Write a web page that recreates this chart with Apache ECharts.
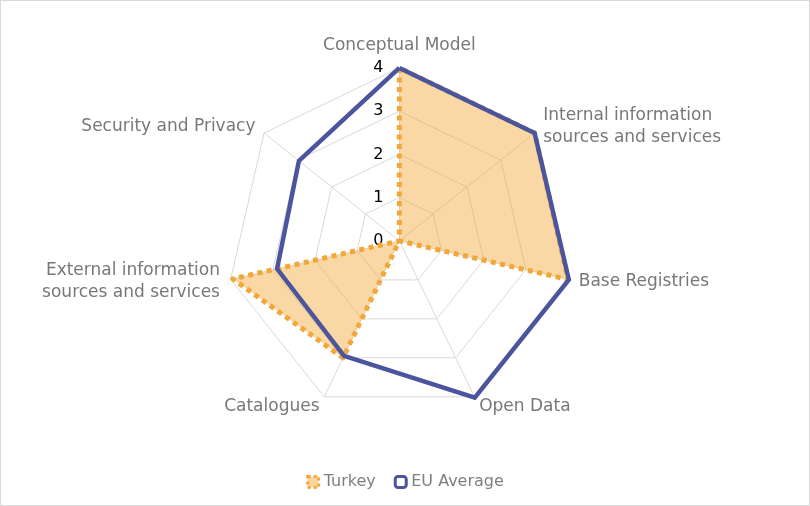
<!DOCTYPE html>
<html>
<head>
<meta charset="utf-8">
<script src="https://cdn.jsdelivr.net/npm/echarts@6/dist/echarts.min.js"></script>
<style>
html,body{margin:0;padding:0;background:#fff;}
#c{width:808px;height:504px;border:1px solid #d9d9d9;}
</style>
</head>
<body>
<div id="c"></div>
<script>
// categories in clockwise order starting from the top
var categories = [
  'Conceptual Model',
  'Internal information\nsources and services',
  'Base Registries',
  'Open Data',
  'Catalogues',
  'External information\nsources and services',
  'Security and Privacy'
];
var turkey = [4, 4, 4, 0, 3, 3.95, 0];
var euAverage = [4, 4, 4.02, 4.02, 2.95, 2.9, 2.97];
var maxValue = 4;
var tickLabels = ['0', '1', '2', '3', '4'];

// ECharts places indicators counter-clockwise; reorder so they appear clockwise
var order = [0].concat(categories.map(function (_, i) { return i; }).slice(1).reverse());
function reorder(arr) { return order.map(function (i) { return arr[i]; }); }

var chart = echarts.init(document.getElementById('c'));
var indicators = reorder(categories).map(function (name, i) {
  var ind = { name: name, min: 0, max: maxValue };
  if (i !== 0) ind.axisLabel = { show: false };
  return ind;
});
chart.setOption({
  animation: false,
  textStyle: { fontFamily: 'DejaVu Sans' },
  legend: {
    bottom: 10,
    left: 'center',
    itemWidth: 11,
    itemHeight: 11,
    itemGap: 18,
    textStyle: { color: '#7f7f7f', fontSize: 16, fontFamily: 'DejaVu Sans' },
    data: [
      { name: 'Turkey', icon: 'rect', itemStyle: { color: '#f9d6a0', borderColor: '#f2a73b', borderWidth: 3, borderType: 'dotted' } },
      { name: 'EU Average', icon: 'roundRect', itemStyle: { color: '#ffffff', borderColor: '#4a559e', borderWidth: 3 } }
    ]
  },
  radar: {
    center: ['49.3%', '47.6%'],
    radius: 173,
    startAngle: 90,
    splitNumber: 4,
    shape: 'polygon',
    indicator: indicators,
    axisName: { color: '#787878', fontSize: 17, fontFamily: 'DejaVu Sans', lineHeight: 22 },
    nameGap: 11,
    axisLine: { lineStyle: { color: '#d9d9d9', width: 1 } },
    splitLine: { lineStyle: { color: '#d9d9d9', width: 1 } },
    splitArea: { show: false },
    axisTick: { show: false },
    axisLabel: {
      show: true,
      color: '#000',
      fontSize: 16,
      fontFamily: 'DejaVu Sans',
      margin: 16,
      formatter: function (v) { return tickLabels[Math.round(v)] || ''; }
    }
  },
  series: [{
    type: 'radar',
    symbol: 'none',
    data: [
      {
        name: 'Turkey',
        value: reorder(turkey),
        lineStyle: { color: '#f2a73b', width: 5, type: [5, 4.5] },
        areaStyle: { color: '#f5a837', opacity: 0.45 },
        itemStyle: { color: '#f2a73b' }
      },
      {
        name: 'EU Average',
        value: reorder(euAverage),
        lineStyle: { color: '#4a559e', width: 4.5, type: 'solid', join: 'miter' },
        itemStyle: { color: '#4a559e' }
      }
    ]
  }]
});
</script>
</body>
</html>
